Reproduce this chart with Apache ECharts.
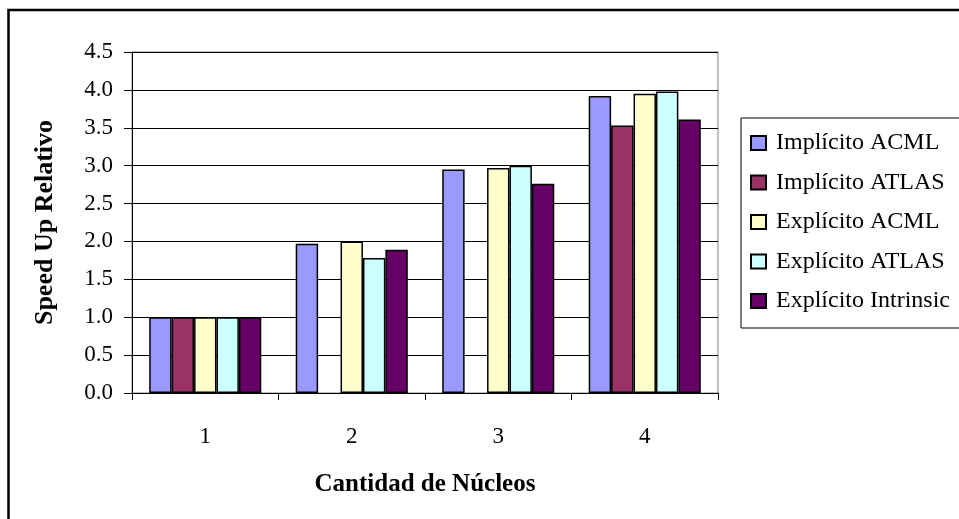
<!DOCTYPE html>
<html>
<head>
<meta charset="utf-8">
<script src="https://cdn.jsdelivr.net/npm/echarts@6/dist/echarts.min.js"></script>
<style>
  html, body { margin: 0; padding: 0; background: #fff; }
  #chart { width: 959px; height: 519px; }
</style>
</head>
<body>
<div id="chart"></div>
<script>
const categories = ['1', '2', '3', '4'];
const seriesNames = ['Implícito ACML', 'Implícito ATLAS', 'Explícito ACML', 'Explícito ATLAS', 'Explícito Intrinsic'];
const implicitoACML = [1.0, 1.97, 2.95, 3.92];
const implicitoATLAS = [1.0, '-', '-', 3.53];
const explicitoACML = [1.0, 2.0, 2.97, 3.95];
const explicitoATLAS = [1.0, 1.78, 3.0, 3.98];
const explicitoIntrinsic = [1.0, 1.89, 2.76, 3.61];
const seriesColors = ['#9999FF', '#993366', '#FFFFCC', '#CCFFFF', '#660066'];
const yAxisName = 'Speed Up Relativo';
const xAxisName = 'Cantidad de Núcleos';

const allData = [implicitoACML, implicitoATLAS, explicitoACML, explicitoATLAS, explicitoIntrinsic];
const FONT = '"Liberation Serif", "Times New Roman", serif';

const chart = echarts.init(document.getElementById('chart'), null, { renderer: 'canvas' });
chart.setOption({
  animation: false,
  backgroundColor: '#ffffff',
  textStyle: { fontFamily: FONT, color: '#000' },
  graphic: [{
    type: 'rect',
    shape: { x: 8.5, y: 10, width: 1000, height: 600 },
    style: { fill: 'none', stroke: '#000', lineWidth: 2.5 },
    z: 100
  }],
  grid: {
    left: 132, right: 241, top: 52, bottom: 126,
    show: true, borderColor: '#808080', borderWidth: 1, backgroundColor: 'transparent'
  },
  legend: {
    orient: 'vertical',
    left: 741, top: 118,
    padding: [13, 60, 15, 9],
    borderColor: '#000', borderWidth: 1,
    icon: 'rect',
    itemWidth: 15, itemHeight: 14, itemGap: 15.5,
    textStyle: { fontFamily: FONT, fontSize: 24, color: '#000', lineHeight: 24, padding: [0, 0, 0, 5] },
    data: seriesNames
  },
  xAxis: {
    type: 'category',
    data: categories,
    name: xAxisName,
    nameLocation: 'middle',
    nameGap: 79,
    nameTextStyle: { fontFamily: FONT, fontSize: 25, fontWeight: 'bold', color: '#000' },
    axisLine: { lineStyle: { color: '#000', width: 1 } },
    axisTick: { show: true, alignWithLabel: false, length: 7, lineStyle: { color: '#000' } },
    axisLabel: { fontFamily: FONT, fontSize: 23, color: '#000', margin: 32 },
    splitLine: { show: false }
  },
  yAxis: {
    type: 'value',
    min: 0, max: 4.5, interval: 0.5,
    name: yAxisName,
    nameLocation: 'middle',
    nameGap: 74,
    nameRotate: 90,
    nameTextStyle: { fontFamily: FONT, fontSize: 26, fontWeight: 'bold', color: '#000' },
    axisLine: { show: true, lineStyle: { color: '#000', width: 1 } },
    axisTick: { show: true, length: 8, lineStyle: { color: '#000' } },
    axisLabel: { fontFamily: FONT, fontSize: 23, color: '#000', margin: 19, formatter: v => v.toFixed(1) },
    splitLine: { show: true, lineStyle: { color: '#000', width: 1 } }
  },
  series: seriesNames.map((name, i) => ({
    name: name,
    type: 'bar',
    data: allData[i],
    barGap: '0%',
    barCategoryGap: '23.5%',
    itemStyle: { color: seriesColors[i], borderColor: '#000', borderWidth: 1.5 }
  }))
});
</script>
</body>
</html>
